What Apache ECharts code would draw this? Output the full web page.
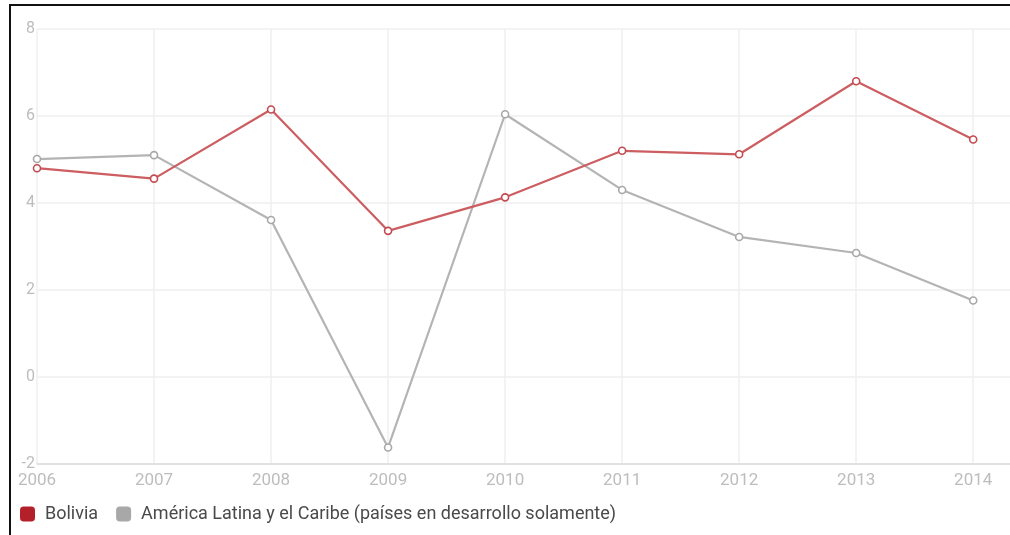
<!DOCTYPE html>
<html>
<head>
<meta charset="utf-8">
<script src="https://cdn.jsdelivr.net/npm/echarts@6/dist/echarts.min.js"></script>
<style>
  html, body { margin: 0; padding: 0; background: #fff; }
  #chart { width: 1010px; height: 535px; }
</style>
</head>
<body>
<div id="chart"></div>
<script>
// Crecimiento anual del PIB (%), 2006–2014
const years = [2006, 2007, 2008, 2009, 2010, 2011, 2012, 2013, 2014];
const bolivia = [4.80, 4.56, 6.15, 3.36, 4.13, 5.20, 5.12, 6.80, 5.46];
const latam = [5.01, 5.10, 3.61, -1.62, 6.04, 4.30, 3.22, 2.85, 1.76];
const yTicks = [-2, 0, 2, 4, 6, 8];

const names = ['Bolivia', 'América Latina y el Caribe (países en desarrollo solamente)'];

const chart = echarts.init(document.getElementById('chart'), null, { renderer: 'canvas' });

const pairs = (vals) => years.map((y, i) => [y, vals[i]]);

chart.setOption({
  animation: false,
  textStyle: { fontFamily: 'Roboto' },
  grid: { left: 37, right: -3, top: 29, bottom: 71, containLabel: false, outerBoundsMode: 'none' },
  xAxis: {
    type: 'value',
    min: 2006,
    max: 2014.34,
    interval: 1,
    axisLine: { show: true, onZero: false, lineStyle: { color: '#dcdcdc', width: 1.5 } },
    axisTick: { show: false },
    axisLabel: {
      color: '#bdbdbd', fontSize: 17, margin: 8,
      formatter: (v) => (Number.isInteger(v) ? String(v) : '')
    },
    splitLine: { show: true, lineStyle: { color: '#efefef', width: 1.5 } }
  },
  yAxis: {
    type: 'value',
    min: yTicks[0],
    max: yTicks[yTicks.length - 1],
    interval: 2,
    axisLine: { show: false },
    axisTick: { show: false },
    axisLabel: { color: '#bdbdbd', fontSize: 16, margin: 2 },
    splitLine: { show: true, lineStyle: { color: '#efefef', width: 1.5 } }
  },
  legend: {
    left: 20,
    top: 505,
    padding: 0,
    icon: 'roundRect',
    itemWidth: 15,
    itemHeight: 15,
    itemGap: 18,
    textStyle: { color: '#4a4a4a', fontSize: 18, fontFamily: 'Roboto', padding: [0, 0, 0, 5] },
    data: [
      { name: names[0], itemStyle: { color: '#b3202a', borderWidth: 0 } },
      { name: names[1], itemStyle: { color: '#a8a8a8', borderWidth: 0 } }
    ]
  },
  series: [
    {
      name: names[1],
      type: 'line',
      data: pairs(latam),
      symbol: 'circle',
      symbolSize: 7,
      lineStyle: { color: '#b4b4b4', width: 2.2 },
      itemStyle: { color: '#fff', borderColor: '#a8a8a8', borderWidth: 1.6 }
    },
    {
      name: names[0],
      type: 'line',
      data: pairs(bolivia),
      symbol: 'circle',
      symbolSize: 7,
      lineStyle: { color: '#cc5e62', width: 2.2 },
      itemStyle: { color: '#fff', borderColor: '#c24a50', borderWidth: 1.6 }
    }
  ],
  graphic: [
    { type: 'line', silent: true, shape: { x1: 9, y1: 5, x2: 1010, y2: 5 }, style: { stroke: '#111', lineWidth: 2 } },
    { type: 'line', silent: true, shape: { x1: 10, y1: 4, x2: 10, y2: 535 }, style: { stroke: '#111', lineWidth: 2 } }
  ]
});
</script>
</body>
</html>
